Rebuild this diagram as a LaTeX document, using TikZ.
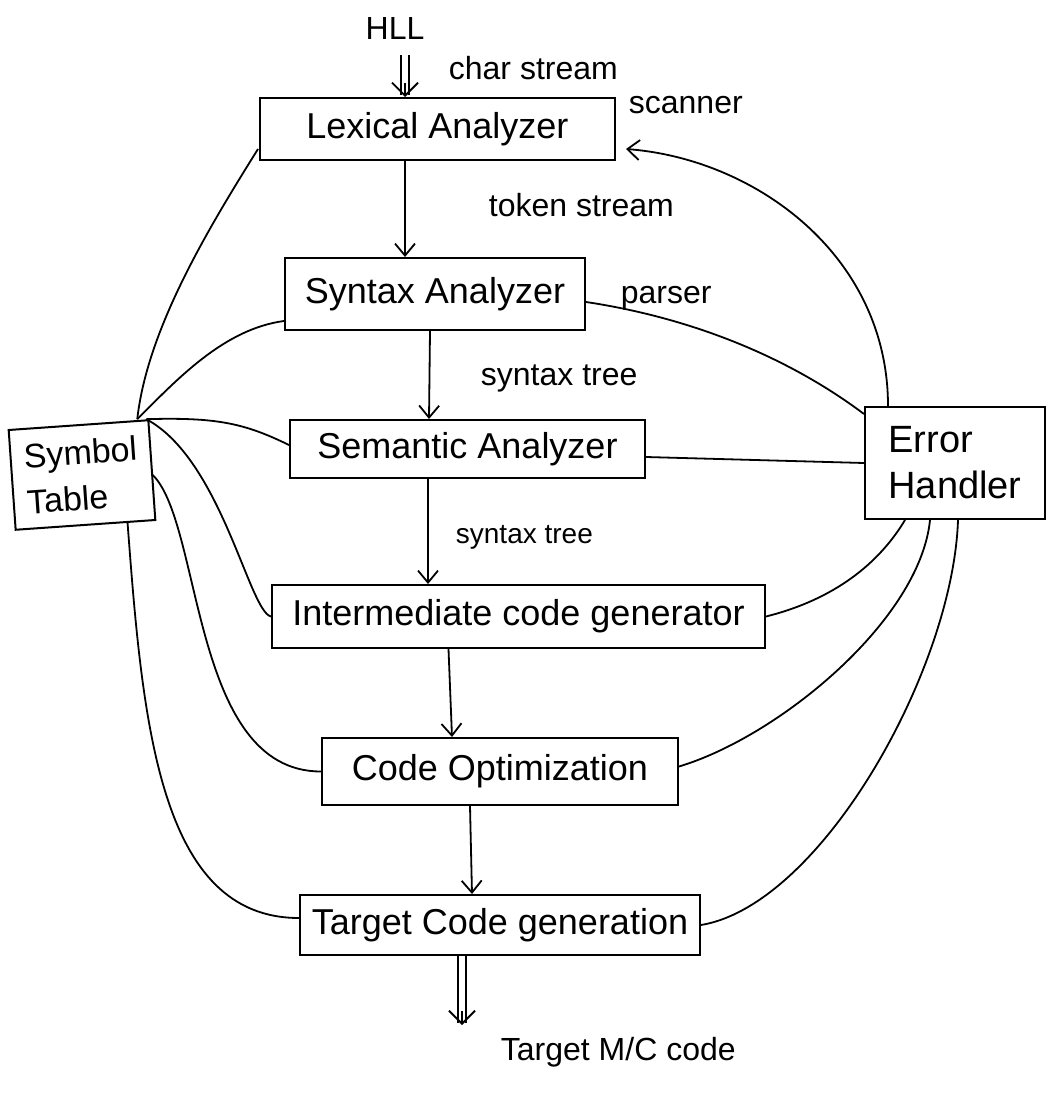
\documentclass[tikz,border=0pt]{standalone}
\usepackage{fontspec}
\setmainfont{Liberation Sans}
\usetikzlibrary{arrows.meta}
\begin{document}
\begin{tikzpicture}[x=1pt,y=-1pt,line width=1.8pt,
  box/.style={draw, rectangle, inner sep=0pt, line width=2pt, font=\fontsize{36}{40}\selectfont},
  lbl/.style={anchor=west, inner sep=0pt, font=\fontsize{32}{36}\selectfont},
  flow/.style={-{Straight Barb[length=12pt,width=20pt]}},
  dline/.style={double, double distance=6pt, shorten >=2pt},
  dhead/.style={-{Straight Barb[length=13pt,width=26pt]}},
  link/.style={line width=1.8pt}]
\fill[white] (0,0) rectangle (1056,1099);
\useasboundingbox (0,0) rectangle (1056,1099);

% main boxes
\node[box, minimum width=355pt, minimum height=62pt] (lex) at (437.5,129) {Lexical Analyzer};
\node[box, minimum width=300pt, minimum height=72pt] (syn) at (435,294) {Syntax Analyzer};
\node[box, minimum width=355pt, minimum height=58pt] (sem) at (467.5,449) {Semantic Analyzer};
\node[box, minimum width=493pt, minimum height=63pt] (icg) at (518.5,616.5) {Intermediate code generator};
\node[box, minimum width=356pt, minimum height=67pt] (opt) at (500,771.5) {Code Optimization};
\node[box, minimum width=400pt, minimum height=60pt] (tcg) at (500,925) {Target Code generation};
\node[box, minimum width=140pt, minimum height=100pt, align=left, rotate=4, font=\fontsize{34}{46}\selectfont] (sym) at (82,475) {Symbol\\Table};
\node[box, minimum width=180pt, minimum height=112pt, align=left, font=\fontsize{38}{46}\selectfont] (err) at (955,463) {Error\\Handler};

% texts
\node[font=\fontsize{32}{36}\selectfont, inner sep=0pt] (hll) at (395,28) {HLL};
\node[lbl] (cs) at (448,68) {char stream};
\node[lbl] (sc) at (628,105) {scanner};
\node[lbl] (ts) at (488,205) {token stream};
\node[lbl] (pa) at (620,298) {parser};
\node[lbl] (st1) at (480,378) {syntax tree};
\node[lbl, font=\fontsize{28}{32}\selectfont] (st2) at (455,537) {syntax tree};
\node[lbl] (tm) at (500,1052) {Target M/C code};
\coordinate (mc) at (462,1025);

% main flow
\draw[dline] ([xshift=10pt,yshift=-15pt]hll.south) -- ([xshift=-32.5pt]lex.north);
\draw[dhead, shorten <=28pt] ([xshift=10pt,yshift=-15pt]hll.south) -- ([xshift=-32.5pt]lex.north);
\draw[flow] ([xshift=-32.5pt]lex.south) -- ([xshift=-30pt]syn.north);
\draw[flow] ([xshift=-5pt]syn.south) -- ([xshift=-38.5pt]sem.north);
\draw[flow] ([xshift=-39.5pt]sem.south) -- ([xshift=-90.5pt]icg.north);
\draw[flow] ([xshift=-70pt]icg.south) -- ([xshift=-48pt]opt.north);
\draw[flow] ([xshift=-30pt]opt.south) -- ([xshift=-28pt]tcg.north);
\draw[dline] ([xshift=-38pt]tcg.south) -- (mc);
\draw[dhead, shorten <=55pt] ([xshift=-38pt]tcg.south) -- (mc);

% symbol table links
\draw[link] ([xshift=-12pt]sym.north east) .. controls +(10,-90) and +(-50,80) .. ([xshift=-1pt,yshift=12pt]lex.south west);
\draw[link] ([xshift=-12pt]sym.north east) .. controls +(40,-40) and +(-60,8) .. ([yshift=10pt]syn.south west);
\draw[link] ([xshift=-3pt]sym.north east) .. controls +(70,-2) and +(-45,-22) .. ([yshift=4pt]sem.west);
\draw[link] ([xshift=-3pt]sym.north east) .. controls +(75,40) and +(-22,-5) .. (icg.west);
\draw[link] ([yshift=-5pt]sym.east) .. controls +(50,50) and +(-130,0) .. (opt.west);
\draw[link] ([xshift=42pt,yshift=3pt]sym.south) .. controls +(15,200) and +(-140,0) .. ([yshift=7pt]tcg.west);

% error handler links
\draw[link, flow] ([xshift=-67pt]err.north) .. controls +(0,-150) and +(130,10) .. ([xshift=10pt,yshift=-20pt]lex.east);
\draw[link] ([yshift=-8pt]err.north west) .. controls +(-80,-60) and +(100,15) .. ([yshift=-8pt]syn.east);
\draw[link] (err.west) -- ([yshift=-8pt]sem.east);
\draw[link] ([xshift=-50pt]err.south) .. controls +(-30,50) and +(60,-15) .. (icg.east);
\draw[link] ([xshift=-25pt]err.south) .. controls +(-10,100) and +(100,-30) .. ([yshift=5pt]opt.east);
\draw[link] ([xshift=3pt]err.south) .. controls +(-5,150) and +(120,-20) .. (tcg.east);
\end{tikzpicture}
\end{document}
